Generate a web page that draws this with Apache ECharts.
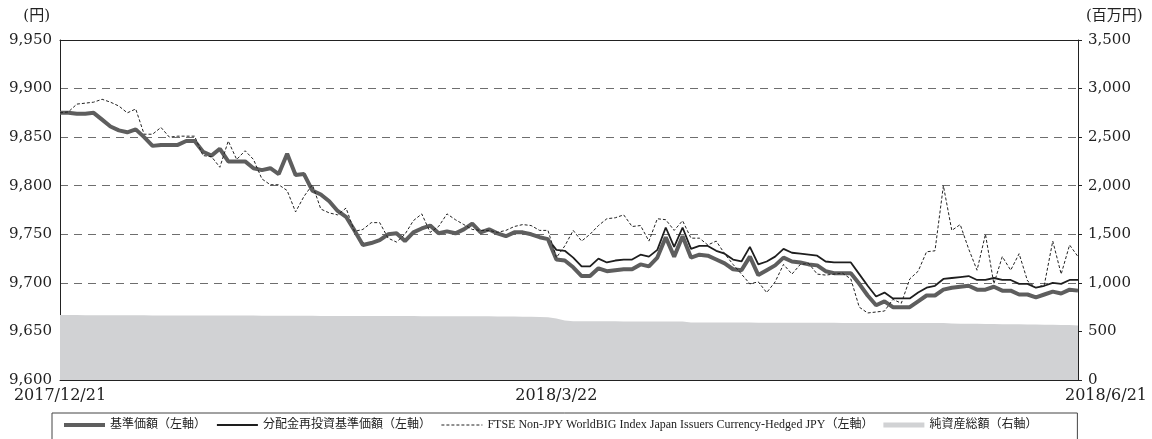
<!DOCTYPE html>
<html>
<head>
<meta charset="utf-8">
<title>基準価額の推移</title>
<script src="https://cdn.jsdelivr.net/npm/echarts@6.0.0/dist/echarts.min.js"></script>
<style>
    html, body { margin: 0; padding: 0; background: #fff; }
    #main { width: 1152px; height: 439px; }
</style>
</head>
<body>
<div id="main"></div>
<script>
// 営業日（月ごと）
var monthDays = [
    ['2017/12', [21, 22, 25, 26, 27, 28, 29]],
    ['2018/1', [4, 5, 9, 10, 11, 12, 15, 16, 17, 18, 19, 22, 23, 24, 25, 26, 29, 30, 31]],
    ['2018/2', [1, 2, 5, 6, 7, 8, 9, 13, 14, 15, 16, 19, 20, 21, 22, 23, 26, 27, 28]],
    ['2018/3', [1, 2, 5, 6, 7, 8, 9, 12, 13, 14, 15, 16, 19, 20, 22, 23, 26, 27, 28, 29, 30]],
    ['2018/4', [2, 3, 4, 5, 6, 9, 10, 11, 12, 13, 16, 17, 18, 19, 20, 23, 24, 25, 26, 27]],
    ['2018/5', [1, 2, 7, 8, 9, 10, 11, 14, 15, 16, 17, 18, 21, 22, 23, 24, 25, 28, 29, 30, 31]],
    ['2018/6', [1, 4, 5, 6, 7, 8, 11, 12, 13, 14, 15, 18, 19, 20, 21]]
];
var tickLabels = ['2017/12/21', '2018/3/22', '2018/6/21'];

// 基準価額（円）
var nav = [
    9875, 9875, 9874, 9874, 9875, 9868, 9861, 9857, 9855, 9858,
    9850, 9841, 9842, 9842, 9842, 9846, 9846, 9835, 9831, 9838,
    9825, 9825, 9825, 9818, 9816, 9818, 9812, 9833, 9811, 9812,
    9795, 9791, 9784, 9774, 9768, 9754, 9739, 9741, 9744, 9750,
    9751, 9743, 9752, 9756, 9759, 9751, 9753, 9751, 9755, 9761,
    9752, 9755, 9751, 9748, 9752, 9752, 9750, 9747, 9745, 9724,
    9723, 9716, 9707, 9707, 9715, 9712, 9713, 9714, 9714, 9719,
    9717, 9726, 9747, 9727, 9748, 9726, 9729, 9728, 9724, 9720,
    9714, 9713, 9727, 9708, 9713, 9718, 9726, 9722, 9721, 9719,
    9718, 9712, 9710, 9710, 9710, 9699, 9687, 9677, 9681, 9675,
    9675, 9675, 9681, 9687, 9687, 9693, 9695, 9696, 9697, 9693,
    9693, 9696, 9692, 9692, 9688, 9688, 9685, 9688, 9691, 9689,
    9693, 9692
];
// 分配金再投資基準価額（円）
var navReinvest = [
    9875, 9875, 9874, 9874, 9875, 9868, 9861, 9857, 9855, 9858,
    9850, 9841, 9842, 9842, 9842, 9846, 9846, 9835, 9831, 9838,
    9825, 9825, 9825, 9818, 9816, 9818, 9812, 9833, 9811, 9812,
    9795, 9791, 9784, 9774, 9768, 9754, 9739, 9741, 9744, 9750,
    9751, 9743, 9752, 9756, 9759, 9751, 9753, 9751, 9755, 9761,
    9752, 9755, 9751, 9748, 9752, 9752, 9750, 9747, 9745, 9734,
    9733, 9726, 9717, 9717, 9725, 9721, 9723, 9724, 9724, 9729,
    9727, 9734, 9757, 9737, 9757, 9735, 9738, 9738, 9733, 9730,
    9724, 9722, 9737, 9719, 9722, 9727, 9735, 9731, 9730, 9729,
    9728, 9722, 9721, 9721, 9721, 9709, 9697, 9686, 9690, 9684,
    9684, 9684, 9690, 9695, 9697, 9704, 9705, 9706, 9707, 9703,
    9703, 9705, 9703, 9703, 9699, 9699, 9695, 9697, 9700, 9699,
    9703, 9703
];
// FTSE Non-JPY WorldBIG Index Japan Issuers Currency-Hedged JPY
var benchmark = [
    9875, 9876, 9884, 9885, 9886, 9889, 9886, 9882, 9875, 9879,
    9853, 9853, 9860, 9850, 9851, 9851, 9851, 9831, 9830, 9819,
    9846, 9827, 9836, 9827, 9807, 9801, 9801, 9795, 9773, 9789,
    9801, 9776, 9772, 9770, 9777, 9753, 9755, 9762, 9762, 9746,
    9742, 9750, 9764, 9771, 9752, 9758, 9771, 9765, 9760, 9755,
    9754, 9754, 9752, 9754, 9758, 9760, 9759, 9754, 9754, 9726,
    9738, 9754, 9743, 9750, 9759, 9766, 9767, 9770, 9758, 9759,
    9743, 9766, 9765, 9754, 9764, 9746, 9746, 9739, 9743, 9730,
    9719, 9709, 9699, 9701, 9690, 9701, 9719, 9709, 9719, 9720,
    9709, 9708, 9709, 9710, 9704, 9675, 9669, 9670, 9671, 9683,
    9679, 9704, 9712, 9732, 9733, 9800, 9754, 9760, 9735, 9713,
    9750, 9699, 9727, 9713, 9730, 9702, 9695, 9698, 9743, 9709,
    9739, 9727
];
// 純資産総額（百万円）
var netAssets = [
    668, 668, 668, 667, 667, 667, 667, 666, 666, 666,
    666, 665, 665, 665, 665, 665, 664, 664, 664, 664,
    663, 663, 663, 663, 662, 662, 662, 662, 661, 661,
    661, 660, 660, 660, 660, 659, 659, 659, 659, 658,
    658, 658, 658, 657, 657, 657, 656, 656, 656, 655,
    655, 655, 654, 654, 653, 652, 651, 649, 646, 632,
    612, 606, 605, 605, 604, 604, 604, 603, 603, 603,
    602, 602, 602, 601, 601, 592, 592, 592, 591, 591,
    591, 591, 591, 590, 590, 590, 590, 590, 589, 589,
    589, 589, 589, 588, 588, 588, 588, 588, 587, 587,
    587, 587, 587, 586, 586, 586, 581, 580, 579, 578,
    577, 576, 575, 574, 573, 572, 571, 570, 569, 567,
    565, 562
];

var dates = [];
monthDays.forEach(function (m) {
    m[1].forEach(function (d) {
        dates.push(m[0] + '/' + d);
    });
});

var serif = 'DejaVu Serif, Noto Sans CJK JP';
var legendFont = 'Liberation Serif, Noto Sans CJK JP';

function comma(v) {
    return String(v).replace(/\B(?=(\d{3})+(?!\d))/g, ',');
}

var myChart = echarts.init(document.getElementById('main'), null, {renderer: 'canvas'});

// 凡例の線アイコンにはシンボルを出さない
var noSymbol = {opacity: 0};

var option = {
    animation: false,
    backgroundColor: '#fff',
    grid: {left: 60, right: 74, top: 40, bottom: 59, containLabel: false},
    legend: {
        top: 413,
        left: 52,
        padding: [6, 40, 12, 10],
        borderColor: '#444',
        borderWidth: 1,
        itemWidth: 41,
        itemHeight: 5,
        itemGap: 10,
        textStyle: {fontFamily: legendFont, fontSize: 12, color: '#222'},
        data: [
            {name: '基準価額（左軸）', itemStyle: noSymbol, lineStyle: {width: 4, color: '#5e5e5e'}},
            {name: '分配金再投資基準価額（左軸）', itemStyle: noSymbol, lineStyle: {width: 1.8, color: '#1e1e1e'}},
            {name: 'FTSE Non-JPY WorldBIG Index Japan Issuers Currency-Hedged JPY（左軸）', itemStyle: noSymbol, lineStyle: {width: 1, color: '#222', type: [3, 2]}},
            {name: '純資産総額（右軸）', icon: 'rect', itemStyle: {color: '#d1d2d4'}}
        ]
    },
    xAxis: [{
        type: 'category',
        data: dates,
        boundaryGap: false,
        axisLine: {lineStyle: {color: '#222', width: 1}},
        axisTick: {show: false},
        splitLine: {show: false},
        axisLabel: {
            interval: function (idx, val) {
                return tickLabels.indexOf(val) >= 0;
            },
            formatter: function (val) {
                if (val === tickLabels[2]) {
                    return '{last|' + val + '}';
                }
                return val;
            },
            rich: {last: {padding: [0, 0, 0, 56], fontFamily: serif, fontSize: 16, color: '#222'}},
            showMinLabel: true,
            showMaxLabel: true,
            margin: 8,
            fontFamily: serif,
            fontSize: 16,
            color: '#222'
        }
    }, {
        // 上辺の枠線
        type: 'category',
        data: dates,
        position: 'top',
        boundaryGap: false,
        axisLine: {lineStyle: {color: '#222', width: 1}},
        axisTick: {show: false},
        axisLabel: {show: false},
        splitLine: {show: false}
    }],
    yAxis: [{
        type: 'value',
        min: 9600,
        max: 9950,
        interval: 50,
        name: '(円)',
        nameLocation: 'end',
        nameGap: 16,
        nameTextStyle: {fontFamily: serif, fontSize: 15, color: '#222', align: 'right', padding: [0, 10, 0, 0]},
        axisLine: {show: true, lineStyle: {color: '#222', width: 1}},
        axisTick: {show: false},
        axisLabel: {formatter: comma, fontFamily: serif, fontSize: 15, color: '#222', margin: 8},
        splitLine: {
            show: true,
            showMinLine: false,
            showMaxLine: false,
            lineStyle: {color: '#6e6e6e', width: 1.2, type: [8, 6]}
        }
    }, {
        type: 'value',
        position: 'right',
        min: 0,
        max: 3500,
        interval: 500,
        name: '(百万円)',
        nameLocation: 'end',
        nameGap: 16,
        nameTextStyle: {fontFamily: serif, fontSize: 15, color: '#222', align: 'left', padding: [0, 0, 0, 8]},
        axisLine: {show: true, lineStyle: {color: '#222', width: 1}},
        axisTick: {show: true, length: 4, lineStyle: {color: '#222'}},
        axisLabel: {formatter: comma, fontFamily: serif, fontSize: 15, color: '#222', margin: 10},
        splitLine: {show: false}
    }],
    series: [{
        name: '純資産総額（右軸）',
        type: 'line',
        yAxisIndex: 1,
        data: netAssets,
        symbol: 'none',
        lineStyle: {width: 0},
        itemStyle: {color: '#d1d2d4'},
        areaStyle: {color: '#d1d2d4', opacity: 1},
        z: 1
    }, {
        name: '分配金再投資基準価額（左軸）',
        type: 'line',
        data: navReinvest,
        symbol: 'none',
        itemStyle: {color: '#1e1e1e'},
        lineStyle: {width: 1.8, color: '#1e1e1e'},
        z: 3
    }, {
        name: '基準価額（左軸）',
        type: 'line',
        data: nav,
        symbol: 'none',
        itemStyle: {color: '#5e5e5e'},
        lineStyle: {width: 4, color: '#5e5e5e'},
        z: 4
    }, {
        name: 'FTSE Non-JPY WorldBIG Index Japan Issuers Currency-Hedged JPY（左軸）',
        type: 'line',
        data: benchmark,
        symbol: 'none',
        itemStyle: {color: '#222'},
        lineStyle: {width: 1, color: '#222', type: [3, 2]},
        z: 5
    }]
};

myChart.setOption(option);
</script>
</body>
</html>
